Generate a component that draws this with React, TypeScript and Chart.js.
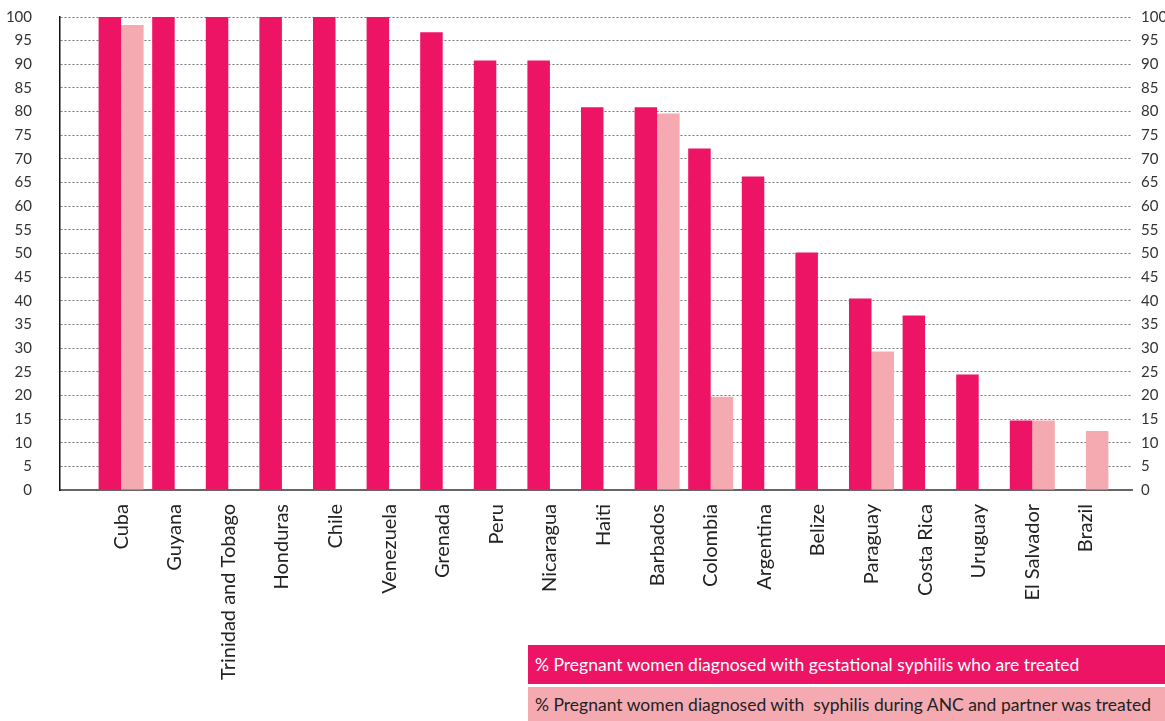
import React, { useEffect, useRef } from "react";
import { Chart, registerables } from "chart.js";

Chart.register(...registerables);

const countries = [
  "Cuba", "Guyana", "Trinidad and Tobago", "Honduras", "Chile", "Venezuela",
  "Grenada", "Peru", "Nicaragua", "Haiti", "Barbados", "Colombia", "Argentina",
  "Belize", "Paraguay", "Costa Rica", "Uruguay", "El Salvador", "Brazil",
];
const treated: (number | null)[] = [
  100, 100, 100, 100, 100, 100, 96.8, 90.8, 90.8, 80.9, 80.9, 72.2, 66.3,
  50.2, 40.5, 36.9, 24.4, 14.7, null,
];
const partnerTreated: (number | null)[] = [
  98.3, null, null, null, null, null, null, null, null, null, 79.6, 19.7, null,
  null, 29.3, null, null, 14.7, 12.5,
];
const yTicks = [0, 5, 10, 15, 20, 25, 30, 35, 40, 45, 50, 55, 60, 65, 70, 75, 80, 85, 90, 95, 100];
const legendLabels = [
  "% Pregnant women diagnosed with gestational syphilis who are treated",
  "% Pregnant women diagnosed with  syphilis during ANC and partner was treated",
];

const PINK = "#ED1466";
const LIGHT = "#F5AAB2";
const FONT = "Lato, 'Open Sans', sans-serif";

export default function App() {
  const ref = useRef<HTMLCanvasElement>(null);
  useEffect(() => {
    if (!ref.current) return;
    const toPts = (arr: (number | null)[]) => arr.map((v, i) => ({ x: i, y: v }));
    const chart = new Chart(ref.current, {
      type: "bar",
      data: {
        datasets: [
          { label: legendLabels[0], data: toPts(treated) as any, backgroundColor: PINK, categoryPercentage: 0.84, barPercentage: 1 },
          { label: legendLabels[1], data: toPts(partnerTreated) as any, backgroundColor: LIGHT, categoryPercentage: 0.84, barPercentage: 1 },
        ],
      },
      options: {
        animation: false,
        responsive: false,
        devicePixelRatio: 1,
        layout: { padding: { top: 0, left: 0, right: 0, bottom: 0 } },
        plugins: { legend: { display: false }, tooltip: { enabled: false } },
        scales: {
          x: {
            type: "linear",
            offset: false,
            min: -1.14,
            max: 18.86,
            grid: { display: false },
            border: { display: true, color: "#666", width: 2 },
            afterBuildTicks: (scale: any) => {
              scale.ticks = countries.map((_, i) => ({ value: i }));
            },
            afterFit: (scale: any) => { scale.height = 231; },
            ticks: {
              autoSkip: false,
              minRotation: 90,
              maxRotation: 90,
              padding: 6,
              color: "#222",
              font: { family: FONT, size: 20 },
              callback: (v: any) => countries[v as number] ?? "",
            },
          },
          y: {
            position: "left",
            min: 0,
            max: 100,
            afterBuildTicks: (scale: any) => { scale.ticks = yTicks.map((v) => ({ value: v })); },
            afterFit: (scale: any) => { scale.width = 60; },
            grid: { color: "#777", lineWidth: 1, drawTicks: false },
            border: { display: true, color: "#111", width: 1.5, dash: [2, 2] },
            ticks: { padding: 28, color: "#333", font: { family: FONT, size: 15 } },
          },
          y2: {
            position: "right",
            min: 0,
            max: 100,
            afterBuildTicks: (scale: any) => { scale.ticks = yTicks.map((v) => ({ value: v })); },
            afterFit: (scale: any) => { scale.width = 33; },
            grid: { display: false, drawTicks: false },
            border: { display: false },
            ticks: { padding: 9, color: "#333", font: { family: FONT, size: 15 } },
          },
        },
      } as any,
    });
    return () => chart.destroy();
  }, []);

  const boxStyle = (bg: string, color: string, top: number, h: number): React.CSSProperties => ({
    position: "absolute", left: 528, top, width: 637, height: h, background: bg, color,
    fontFamily: FONT, fontSize: 17.5, display: "flex", alignItems: "center", paddingLeft: 7,
    boxSizing: "border-box", whiteSpace: "pre",
  });

  return (
    <div style={{ position: "absolute", left: 0, top: 0, width: 1165, height: 721, background: "#fff", overflow: "hidden" }}>
      <canvas ref={ref} width={1165} height={741} style={{ position: "absolute", left: 0, top: -20 }} />
      <div style={boxStyle(PINK, "#fff", 645, 39)}>{legendLabels[0]}</div>
      <div style={boxStyle(LIGHT, "#222", 687, 34)}>{legendLabels[1]}</div>
    </div>
  );
}
